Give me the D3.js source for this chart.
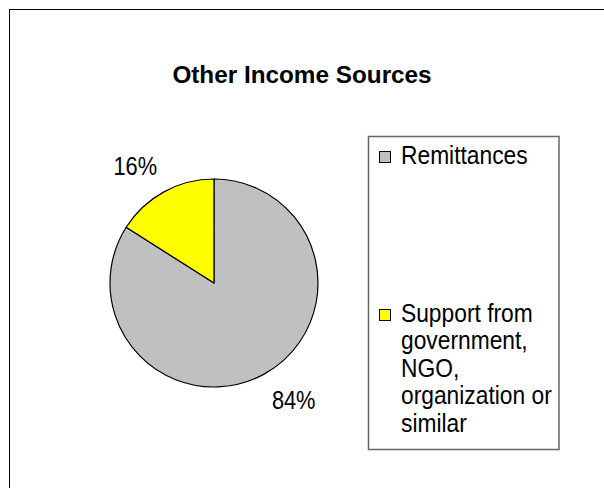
<!DOCTYPE html>
<html>
<head>
<meta charset="utf-8">
<script src="https://cdn.jsdelivr.net/npm/d3@7"></script>
<style>
  html, body { margin: 0; padding: 0; background: #fff; }
  svg { display: block; }
  text { font-family: Arial, "Liberation Sans", sans-serif; fill: #000; }
</style>
</head>
<body>
<svg id="chart" width="604" height="488"></svg>
<script>
// Income source shares (percent)
const categories = ["Remittances", "Support from government, NGO, organization or similar"];
const legendLines = [["Remittances"], ["Support from", "government,", "NGO,", "organization or", "similar"]];
const values = [84, 16];
const colors = ["#C0C0C0", "#FFFF00"];
const titleText = "Other Income Sources";

// Body text is drawn slightly tall
const stretch = 1.1;

const svg = d3.select("#chart");

// Chart area frame
svg.append("rect")
  .attr("x", 9.5).attr("y", 9.5)
  .attr("width", 620).attr("height", 500)
  .attr("fill", "#fff").attr("stroke", "#000").attr("stroke-width", 1);

// Title
svg.append("text")
  .attr("x", 302).attr("y", 83)
  .attr("text-anchor", "middle")
  .style("font-size", "24.3px").style("font-weight", "bold")
  .text(titleText);

// Pie
const cx = 214, cy = 283, r = 104;
const pie = d3.pie().sort(null).value(d => d.value).startAngle(0).endAngle(2 * Math.PI);
const data = pie(categories.map((c, i) => ({ name: c, value: values[i], color: colors[i] })));
const arc = d3.arc().innerRadius(0).outerRadius(r);
const labelArc = d3.arc().innerRadius(116).outerRadius(116);

const g = svg.append("g").attr("transform", `translate(${cx},${cy})`);
g.selectAll("path.slice")
  .data(data)
  .join("path")
  .attr("class", "slice")
  .attr("d", arc)
  .attr("fill", d => d.data.color)
  .attr("stroke", "#000")
  .attr("stroke-width", 1.2)
  .attr("stroke-linejoin", "round");

// Percentage labels outside the pie
const total = d3.sum(values);
g.selectAll("text.pct")
  .data(data)
  .join("text")
  .attr("class", "pct")
  .each(function (d) {
    const [px, py] = labelArc.centroid(d);
    const mid = (d.startAngle + d.endAngle) / 2;
    const left = Math.sin(mid) < 0;
    const top = Math.cos(mid) > 0;
    const x = left ? px - 1 : px + 2;
    const y = top ? py - 6 : py + 24;
    d3.select(this)
      .attr("transform", `translate(${x},${y}) scale(1,${stretch + 0.04})`)
      .attr("text-anchor", left ? "end" : "start");
  })
  .style("font-size", "21.8px")
  .text(d => d3.format(".0%")(d.data.value / total));

// Legend
const legend = svg.append("g");
legend.append("rect")
  .attr("x", 368.5).attr("y", 136.5)
  .attr("width", 190.5).attr("height", 313)
  .attr("fill", "#fff").attr("stroke", "#666").attr("stroke-width", 1.5);

const legendY = [164, 322];
const lineH = 27.5;
legendLines.forEach((lines, i) => {
  legend.append("rect")
    .attr("x", 379.5).attr("y", legendY[i] - 12.5)
    .attr("width", 11).attr("height", 11)
    .attr("fill", colors[i]).attr("stroke", "#000").attr("stroke-width", 1);
  const t = legend.append("text")
    .attr("transform", `translate(401,${legendY[i]}) scale(1,${stretch})`)
    .style("font-size", "22.8px");
  lines.forEach((ln, j) => {
    t.append("tspan")
      .attr("x", 0)
      .attr("y", j * lineH / stretch)
      .text(ln);
  });
});
</script>
</body>
</html>
